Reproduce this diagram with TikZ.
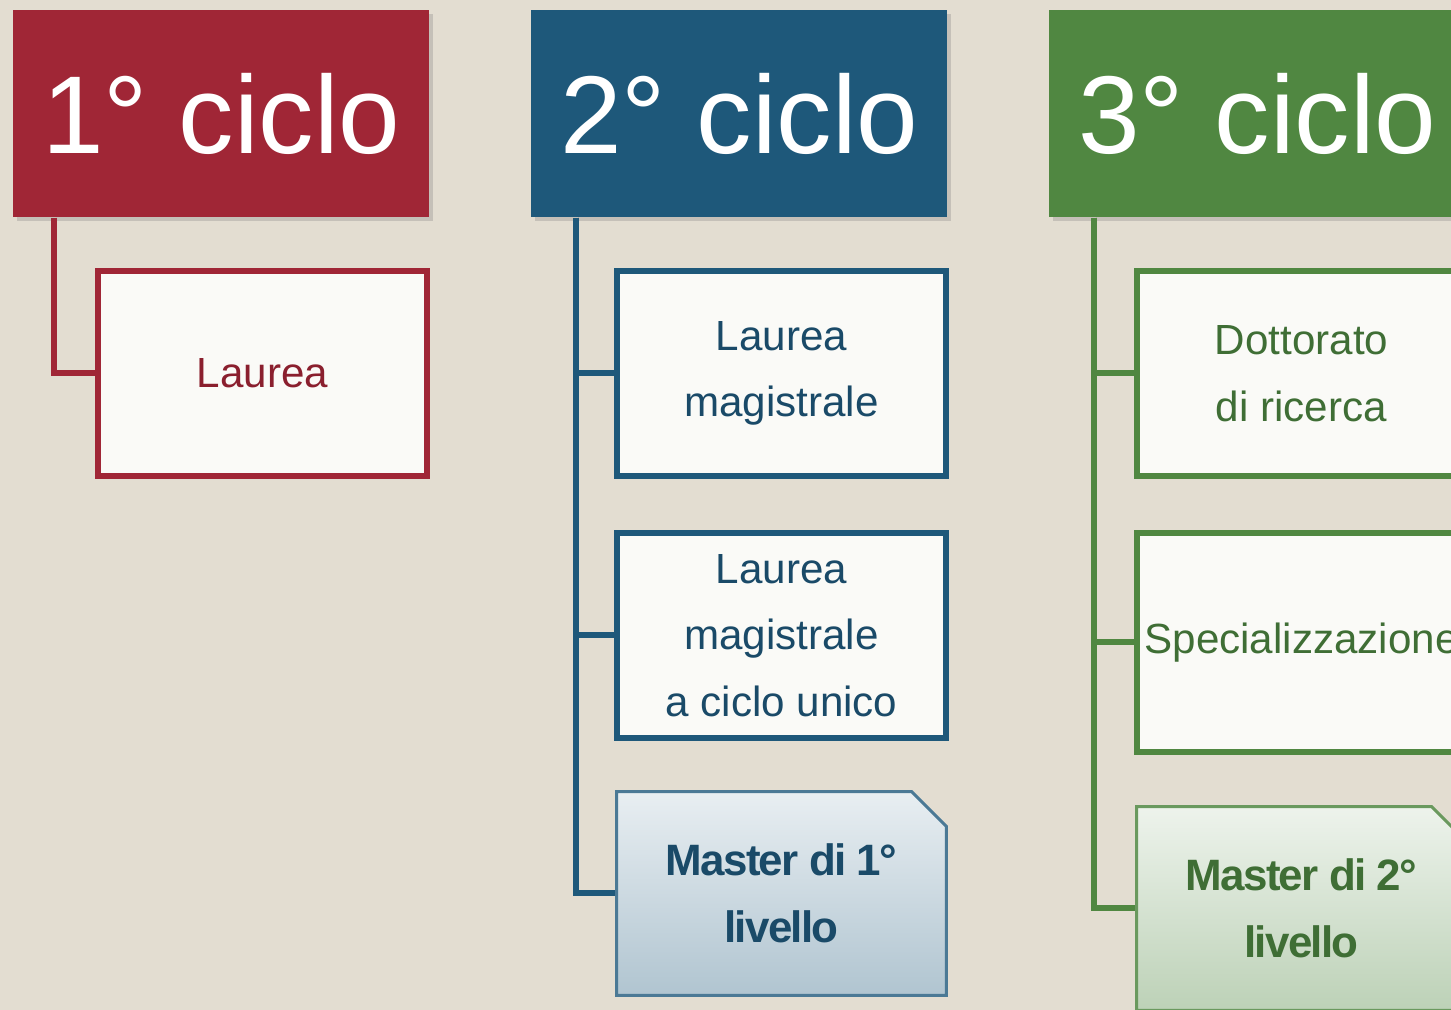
\documentclass[tikz,border=0pt]{standalone}
\usepackage{fontspec}
\setmainfont{Liberation Sans}
\newfontfamily\masterfont[LetterSpace=-4]{Liberation Sans}
\usepackage{xcolor}
\usetikzlibrary{calc,shapes.misc,shadows}

\definecolor{sfondo}{HTML}{E3DDD1}
\definecolor{rosso}{HTML}{A02636}
\definecolor{blu}{HTML}{1E587A}
\definecolor{verde}{HTML}{508741}
\definecolor{rossoscuro}{HTML}{8A1F2E}
\definecolor{bluscuro}{HTML}{1A4A68}
\definecolor{verdescuro}{HTML}{3F6E35}
\definecolor{carta}{HTML}{FAFAF7}

\begin{document}
\begin{tikzpicture}[x=0.02cm, y=-0.02cm,
    ciclo/.style={fill=#1, text=white, anchor=north west, minimum width=8.32cm, minimum height=4.14cm, inner sep=0pt,
        font=\fontsize{63}{70}\selectfont, drop shadow={opacity=0.3, shadow xshift=2pt, shadow yshift=-2pt}},
    corso/.style 2 args={draw=#1, text=#2, fill=carta, line width=0.12cm, anchor=north west,
        minimum width=6.58cm, minimum height=4.1cm, inner sep=0pt, align=center, font=\fontsize{24}{38}\selectfont},
    master/.style n args={4}{chamfered rectangle, chamfered rectangle corners=north east,
        chamfered rectangle xsep=0.35cm, chamfered rectangle ysep=0.35cm, draw=#1, text=#2, top color=#3, bottom color=#4,
        line width=0.06cm, anchor=north west, minimum width=6.6cm, minimum height=4.08cm, inner sep=0pt, align=center,
        font=\masterfont\bfseries\fontsize{25}{38}\selectfont},
    ramo/.style={draw=#1, line width=0.12cm}]

    \path[use as bounding box, fill=sfondo] (0,0) rectangle (1451,1010);
    \clip (0,0) rectangle (1451,1010);

    \node[ciclo=rosso] (ciclo1) at (13,10) {1° ciclo};
    \node[ciclo=blu] (ciclo2) at (531,10) {2° ciclo};
    \node[ciclo=verde] (ciclo3) at (1049,10) {3° ciclo};

    \node[corso={rosso}{rossoscuro}] (laurea) at (95,268) {Laurea};
    \node[corso={blu}{bluscuro}] (lm) at (614,268) {Laurea\\magistrale};
    \node[corso={blu}{bluscuro}] (lmcu) at (614,530) {Laurea\\magistrale\\a ciclo unico};
    \node[master={blu!80!white}{bluscuro}{blu!10!white}{blu!35!white}] (master1) at (615,790) {Master di 1°\\livello};
    \node[corso={verde}{verdescuro}] (dott) at (1134,268) {Dottorato\\di ricerca};
    \node[corso={verde}{verdescuro}, minimum height=4.38cm] (spec) at (1134,530) {Specializzazione};
    \node[master={verde!85!white}{verdescuro}{verde!10!white}{verde!38!white}] (master2) at (1135,805) {Master di 2°\\livello};

    \foreach \testa/\corso/\dx/\col in {ciclo1/laurea/41/rosso, ciclo2/lm/45/blu, ciclo2/lmcu/45/blu, ciclo2/master1/45/blu,
        ciclo3/dott/45/verde, ciclo3/spec/45/verde, ciclo3/master2/45/verde}
        \draw[ramo=\col] ($(\testa.south west)+(\dx,0)$) |- (\corso.west);
\end{tikzpicture}
\end{document}
